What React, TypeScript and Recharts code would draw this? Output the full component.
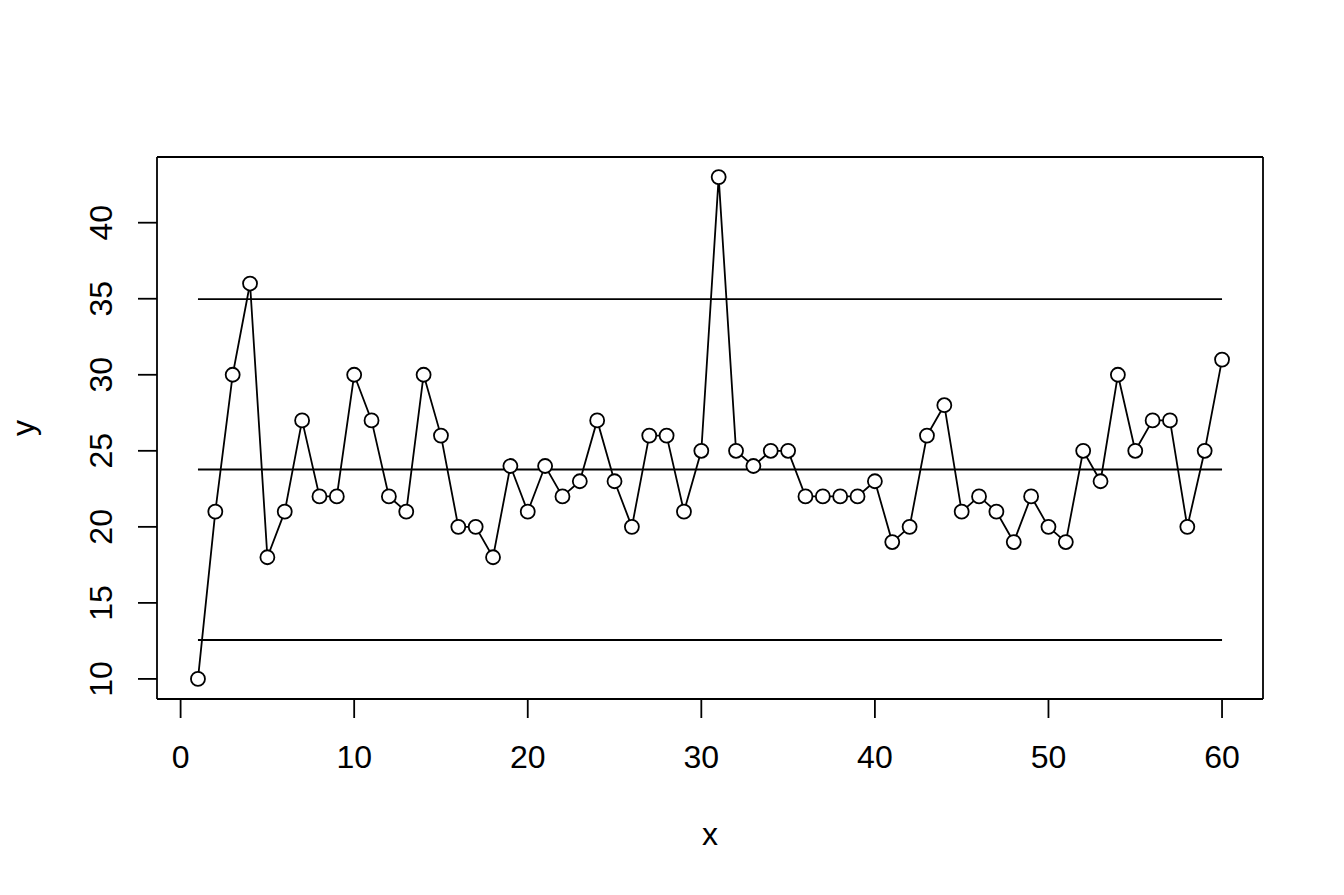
import React from 'react';
import { ComposedChart, Line, XAxis, YAxis, ReferenceLine, Customized } from 'recharts';

// Series values (x = observation index 1..60)
const yValues = [
  10, 21, 30, 36, 18, 21, 27, 22, 22, 30,
  27, 22, 21, 30, 26, 20, 20, 18, 24, 21,
  24, 22, 23, 27, 23, 20, 26, 26, 21, 25,
  43, 25, 24, 25, 25, 22, 22, 22, 22, 23,
  19, 20, 26, 28, 21, 22, 21, 19, 22, 20,
  19, 25, 23, 30, 25, 27, 27, 20, 25, 31,
];
const xTicks = [0, 10, 20, 30, 40, 50, 60];
const yTicks = [10, 15, 20, 25, 30, 35, 40];
const refLevels = [12.56, 23.77, 34.98];
const refStart = 1;
const refEnd = 60;
const xDomain: [number, number] = [-1.36, 62.36];
const yDomain: [number, number] = [8.68, 44.32];
const xTitle = 'x';
const yTitle = 'y';

const data = yValues.map((y, i) => ({ x: i + 1, y }));

const FONT = '"Liberation Sans", Arial, Helvetica, sans-serif';
const LW = 1.8;

const XTick = (props: any) => {
  const { x, y, payload } = props;
  return (
    <text x={x} y={y + 50} textAnchor="middle" fontSize={32} fontFamily={FONT} fill="#000">
      {payload.value}
    </text>
  );
};

const YTick = (props: any) => {
  const { x, y, payload } = props;
  const tx = x - 26;
  return (
    <text
      x={tx}
      y={y}
      textAnchor="middle"
      fontSize={32}
      fontFamily={FONT}
      fill="#000"
      transform={`rotate(-90, ${tx}, ${y})`}
    >
      {payload.value}
    </text>
  );
};

const Titles = () => (
  <g>
    <text x={710} y={845} textAnchor="middle" fontSize={32} fontFamily={FONT} fill="#000">
      {xTitle}
    </text>
    <text
      x={34}
      y={428}
      textAnchor="middle"
      fontSize={32}
      fontFamily={FONT}
      fill="#000"
      transform="rotate(-90, 34, 428)"
    >
      {yTitle}
    </text>
  </g>
);

export default function App() {
  const axisLine = { stroke: '#000', strokeWidth: LW };
  return (
    <div style={{ position: 'absolute', left: 0, top: 0, width: 1344, height: 895, background: '#fff' }}>
      <ComposedChart
        width={1344}
        height={895}
        data={data}
        margin={{ top: 156, right: 80, bottom: 96, left: 57 }}
      >
        <XAxis
          dataKey="x"
          type="number"
          domain={xDomain}
          ticks={xTicks}
          interval={0}
          allowDataOverflow
          height={100}
          tickSize={19}
          tickMargin={0}
          axisLine={axisLine}
          tickLine={axisLine}
          tick={<XTick />}
        />
        <XAxis
          xAxisId="top"
          orientation="top"
          type="number"
          domain={xDomain}
          allowDataOverflow
          height={1}
          tick={false}
          tickLine={false}
          axisLine={axisLine}
        />
        <YAxis
          type="number"
          domain={yDomain}
          ticks={yTicks}
          interval={0}
          allowDataOverflow
          width={100}
          tickSize={19}
          tickMargin={0}
          axisLine={axisLine}
          tickLine={axisLine}
          tick={<YTick />}
        />
        <YAxis
          yAxisId="right"
          orientation="right"
          type="number"
          domain={yDomain}
          allowDataOverflow
          width={1}
          tick={false}
          tickLine={false}
          axisLine={axisLine}
        />
        <Line
          dataKey="y"
          stroke="#000"
          strokeWidth={LW}
          dot={{ r: 7, stroke: '#000', strokeWidth: LW, fill: '#fff' }}
          activeDot={false}
          isAnimationActive={false}
        />
        {refLevels.map((lvl) => (
          <ReferenceLine
            key={lvl}
            segment={[
              { x: refStart, y: lvl },
              { x: refEnd, y: lvl },
            ]}
            stroke="#000"
            strokeWidth={LW}
          />
        ))}
        <Customized component={Titles} />
      </ComposedChart>
    </div>
  );
}
